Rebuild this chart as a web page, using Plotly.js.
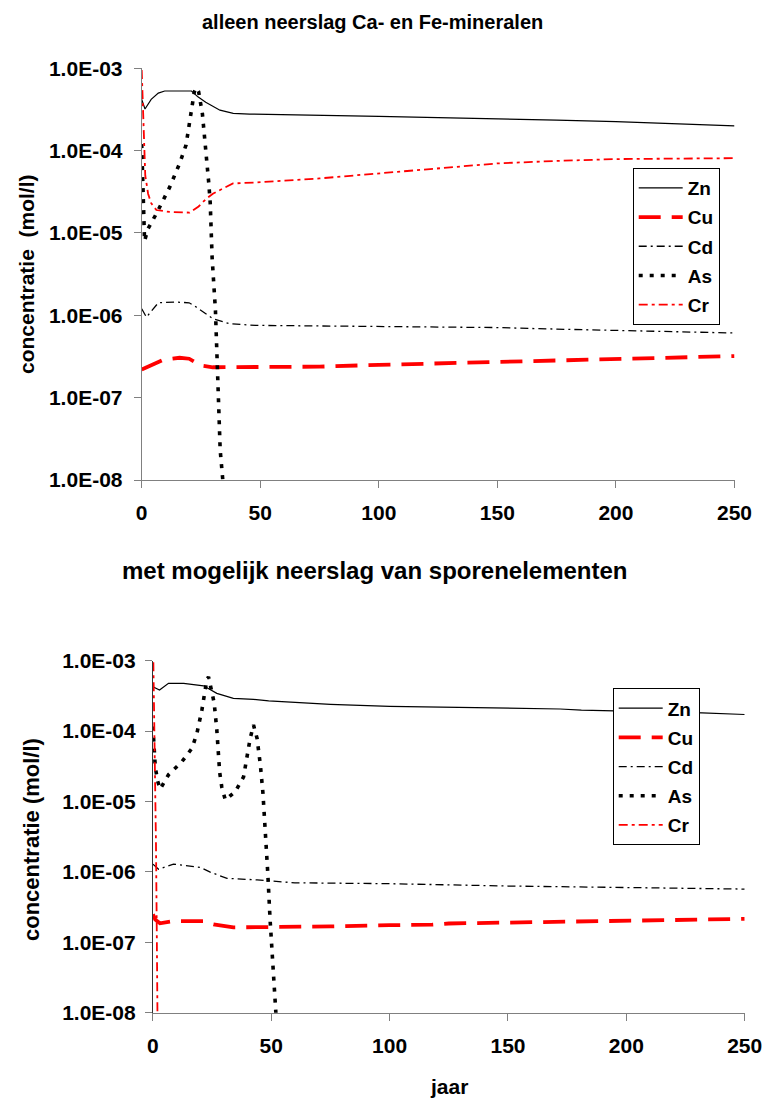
<!DOCTYPE html>
<html>
<head>
<meta charset="utf-8">
<script src="https://cdn.plot.ly/plotly-3.0.1.min.js"></script>
<style>
  html, body { margin: 0; padding: 0; background: #fff; }
  #chart { width: 765px; height: 1101px; }
</style>
</head>
<body>
<div id="chart"></div>
<script>
// ---- Series names and y tick labels ----
const seriesNames = ['Zn', 'Cu', 'Cd', 'As', 'Cr'];
const yTickVals = [1e-8, 1e-7, 1e-6, 1e-5, 1e-4, 1e-3];
const yTickText = ['1.0E-08', '1.0E-07', '1.0E-06', '1.0E-05', '1.0E-04', '1.0E-03'];
const xTickVals = [0, 50, 100, 150, 200, 250];

// ---- Scenario 1: alleen neerslag Ca- en Fe-mineralen ----
const tZn1 = [0, 1.4, 4, 7, 9.7, 15, 21, 23.7, 27, 33, 38.6, 45.5, 60, 80, 100, 125, 150, 175, 200, 225, 250];
const zn1  = [4.2e-4, 3.2e-4, 4.2e-4, 5.0e-4, 5.3e-4, 5.3e-4, 5.3e-4, 4.5e-4, 3.86e-4, 3.1e-4, 2.84e-4, 2.78e-4,
              2.72e-4, 2.65e-4, 2.6e-4, 2.52e-4, 2.45e-4, 2.35e-4, 2.25e-4, 2.12e-4, 2.0e-4];

const tCu1 = [0, 4, 9, 12, 16, 20, 25, 30, 50, 75, 100, 125, 150, 175, 200, 225, 250];
const cu1  = [2.2e-7, 2.5e-7, 2.88e-7, 2.95e-7, 3.05e-7, 2.97e-7, 2.45e-7, 2.34e-7, 2.34e-7, 2.38e-7,
              2.5e-7, 2.6e-7, 2.72e-7, 2.88e-7, 2.98e-7, 3.08e-7, 3.2e-7];

const tCd1 = [0, 2, 7, 14, 20, 23, 30, 37, 48, 75, 100, 125, 150, 175, 200, 225, 250];
const cd1  = [1.2e-6, 9.5e-7, 1.42e-6, 1.45e-6, 1.42e-6, 1.26e-6, 9.1e-7, 7.9e-7, 7.55e-7, 7.4e-7,
              7.3e-7, 7.2e-7, 7.1e-7, 6.8e-7, 6.6e-7, 6.4e-7, 6.1e-7];

const tAs1 = [0, 0.5, 1.2, 2.7, 6.2, 11.8, 16, 18.7, 20.4, 22.2, 23, 24, 25.6, 27, 28.3, 28.9, 29.7, 31.1, 32.1, 33.1, 34.2, 35];
const as1  = [1.2e-4, 3e-5, 8e-6, 1.13e-5, 1.72e-5, 3.6e-5, 7e-5, 1.17e-4, 2.6e-4, 5.2e-4, 5.8e-4, 5.2e-4,
              2.8e-4, 1.1e-4, 4e-5, 2.3e-5, 5e-6, 1.15e-6, 1.95e-7, 2.3e-8, 1e-8, 6e-9];

const tCr1 = [0, 0.4, 0.9, 1.5, 2.7, 4, 6.2, 11.8, 20.2, 24, 27.2, 30, 38.5, 48, 75, 100, 125, 150, 175, 200, 225, 250];
const cr1  = [9.5e-4, 4e-4, 1.2e-4, 5e-5, 3e-5, 2.3e-5, 1.9e-5, 1.8e-5, 1.77e-5, 2.1e-5, 2.6e-5, 3e-5,
              4e-5, 4.1e-5, 4.6e-5, 5.3e-5, 6e-5, 7e-5, 7.5e-5, 7.9e-5, 8e-5, 8.1e-5];

// ---- Scenario 2: met mogelijk neerslag van sporenelementen ----
const tZn2 = [0, 2.8, 6.6, 13, 21.4, 27, 34, 42.5, 48.9, 75, 100, 125, 150, 172, 181, 200, 232, 250];
const zn2  = [4.27e-4, 3.84e-4, 4.77e-4, 4.77e-4, 4.4e-4, 3.44e-4, 2.92e-4, 2.83e-4, 2.68e-4, 2.4e-4,
              2.25e-4, 2.18e-4, 2.12e-4, 2.06e-4, 1.98e-4, 1.93e-4, 1.82e-4, 1.72e-4];

const tCu2 = [0, 1, 3, 8.7, 21.4, 25.6, 34, 48, 75, 100, 118, 125, 150, 175, 200, 225, 250];
const cu2  = [2.5e-7, 2.1e-7, 1.86e-7, 2.0e-7, 2.0e-7, 1.8e-7, 1.63e-7, 1.63e-7, 1.68e-7, 1.75e-7,
              1.78e-7, 1.85e-7, 1.9e-7, 1.95e-7, 2.0e-7, 2.08e-7, 2.15e-7];

const tCd2 = [0, 2.4, 8.7, 20, 24, 31.3, 44, 60, 100, 150, 200, 250];
const cd2  = [1.29e-6, 1.09e-6, 1.29e-6, 1.16e-6, 1.0e-6, 8.1e-7, 7.7e-7, 7.0e-7, 6.8e-7, 6.3e-7, 6.0e-7, 5.7e-7];

const tAs2 = [0, 0.3, 1, 2, 3.1, 6.6, 12.3, 16.5, 18.6, 20.7, 22.8, 23.5, 25.9, 27, 27.7, 28.2, 29.1, 30.6,
              34.8, 38.3, 41.1, 42.5, 44, 45.4, 46.5, 47.4, 47.9, 48.5, 49.5, 50.5, 51.7, 52.5];
const as2  = [1.16e-4, 7.5e-5, 3.1e-5, 1.95e-5, 1.5e-5, 2.4e-5, 3.7e-5, 5.7e-5, 9.3e-5, 2e-4, 5.4e-4, 5.9e-4,
              2.5e-4, 1.04e-4, 4.35e-5, 2.6e-5, 1.6e-5, 1.05e-5, 1.38e-5, 2.24e-5, 7.9e-5, 1.22e-4, 7.9e-5,
              3.3e-5, 1.3e-5, 4.9e-6, 2.2e-6, 1e-6, 2.1e-7, 5e-8, 1e-8, 5e-9];

const tCr2 = [0.2, 0.6, 1.0, 1.3, 1.6, 1.9, 2.0];
const cr2  = [9.5e-4, 1.2e-4, 2.5e-5, 2.5e-6, 2e-7, 1.5e-8, 5e-9];

// ---- Line styles per element ----
const styles = {
  Zn: { color: '#000000', width: 1.2, dash: 'solid' },
  Cu: { color: '#ff0000', width: 3.8, dash: '22px,11px' },
  Cd: { color: '#000000', width: 1.3, dash: '8px,4px,2px,4px' },
  As: { color: '#000000', width: 3.6, dash: '4px,7px' },
  Cr: { color: '#ff0000', width: 1.8, dash: '9px,4px,3px,4px' }
};

const panel1 = { Zn: [tZn1, zn1], Cu: [tCu1, cu1], Cd: [tCd1, cd1], As: [tAs1, as1], Cr: [tCr1, cr1] };
const panel2 = { Zn: [tZn2, zn2], Cu: [tCu2, cu2], Cd: [tCd2, cd2], As: [tAs2, as2], Cr: [tCr2, cr2] };

const traces = [];
seriesNames.forEach(function (name) {
  traces.push({
    x: panel1[name][0], y: panel1[name][1], name: name,
    type: 'scatter', mode: 'lines', xaxis: 'x', yaxis: 'y',
    line: styles[name], legend: 'legend', legendgroup: 'a' + name
  });
});
seriesNames.forEach(function (name) {
  traces.push({
    x: panel2[name][0], y: panel2[name][1], name: name,
    type: 'scatter', mode: 'lines', xaxis: 'x2', yaxis: 'y2',
    line: styles[name], legend: 'legend2', legendgroup: 'b' + name
  });
});

const W = 765, H = 1101;
const FONT = 'Liberation Sans, Arial, Helvetica, sans-serif';
const px = v => v / W;
const py = v => 1 - v / H;
const boldFont = s => ({ family: FONT, size: s, color: '#000', weight: 'bold' });

function xAxis(domain, anchor) {
  return {
    domain: domain, anchor: anchor, range: [0, 250], tickvals: xTickVals,
    showgrid: false, zeroline: false, showline: true, linecolor: '#808080', linewidth: 1,
    ticks: 'outside', ticklen: 7, tickcolor: '#808080', tickwidth: 1,
    ticklabelstandoff: 7,
    tickfont: boldFont(21)
  };
}
function yAxis(domain, anchor, lineColor, standoff) {
  return {
    domain: domain, anchor: anchor, type: 'log', range: [-8, -3],
    tickvals: yTickVals, ticktext: yTickText,
    showgrid: false, zeroline: false, showline: true, linecolor: lineColor, linewidth: 1,
    ticks: 'outside', ticklen: 7, tickcolor: '#808080', tickwidth: 1,
    ticklabelstandoff: standoff,
    tickfont: boldFont(21)
  };
}

const legendBase = {
  bgcolor: '#ffffff', bordercolor: '#000000', borderwidth: 1,
  font: boldFont(19), itemwidth: 44,
  xanchor: 'left', yanchor: 'top', traceorder: 'grouped', tracegroupgap: 1.5,
  itemclick: false
};

const layout = {
  width: W, height: H, autosize: false,
  margin: { l: 0, r: 0, t: 0, b: 0, pad: 0 },
  paper_bgcolor: '#ffffff', plot_bgcolor: '#ffffff',
  showlegend: true,
  xaxis: xAxis([px(141.7), px(734.5)], 'y'),
  yaxis: yAxis([py(480), py(68.3)], 'x', '#808080', 7),
  xaxis2: xAxis([px(152.9), px(744.7)], 'y2'),
  yaxis2: yAxis([py(1012.7), py(660.7)], 'x2', '#333333', 5),
  legend: Object.assign({}, legendBase, { x: px(632.7), y: py(168) }),
  legend2: Object.assign({}, legendBase, { x: px(612.7), y: py(688.3) }),
  annotations: [
    { text: 'alleen neerslag Ca- en Fe-mineralen', xref: 'paper', yref: 'paper',
      x: px(372), y: py(22), xanchor: 'center', yanchor: 'middle', showarrow: false, font: boldFont(20) },
    { text: 'met mogelijk neerslag van sporenelementen', xref: 'paper', yref: 'paper',
      x: px(375), y: py(570), xanchor: 'center', yanchor: 'middle', showarrow: false, font: boldFont(24) },
    { text: 'concentratie  (mol/l)', xref: 'paper', yref: 'paper', textangle: -90,
      x: px(26), y: py(274), xanchor: 'center', yanchor: 'middle', showarrow: false, font: boldFont(21) },
    { text: 'concentratie (mol/l)', xref: 'paper', yref: 'paper', textangle: -90,
      x: px(31), y: py(840), xanchor: 'center', yanchor: 'middle', showarrow: false, font: boldFont(22) },
    { text: 'jaar', xref: 'paper', yref: 'paper',
      x: px(449), y: py(1086), xanchor: 'center', yanchor: 'middle', showarrow: false, font: boldFont(21) }
  ]
};

Plotly.newPlot('chart', traces, layout, { displayModeBar: false, staticPlot: true });
</script>
</body>
</html>
